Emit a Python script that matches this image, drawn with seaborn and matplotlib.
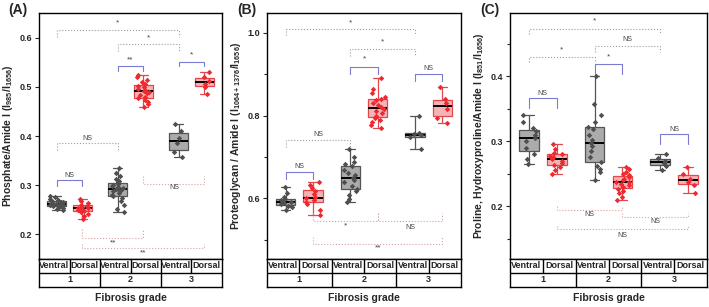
import numpy as np
import pandas as pd
import matplotlib
matplotlib.use("Agg")
import matplotlib.pyplot as plt
from matplotlib.ticker import MultipleLocator
import seaborn as sns

sns.set_style("ticks")
plt.rcParams['font.family'] = ['Liberation Sans', 'DejaVu Sans']
plt.rcParams['font.weight'] = 'bold'
plt.rcParams['mathtext.fontset'] = 'custom'
plt.rcParams['mathtext.rm'] = 'Liberation Sans:bold'
plt.rcParams['mathtext.bf'] = 'Liberation Sans:bold'
plt.rcParams['mathtext.default'] = 'bf'
np.random.seed(4)

grade_order = ['1', '2', '3']
side_order = ['Ventral', 'Dorsal']
group_keys = ['1V', '1D', '2V', '2D', '3V', '3D']

# (A) phosphate / amide I
a_1v = [0.248, 0.251, 0.253, 0.255, 0.256, 0.258, 0.259, 0.260, 0.261, 0.262, 0.262, 0.264, 0.265, 0.266, 0.268, 0.270, 0.272, 0.275, 0.278]
a_1d = [0.230, 0.236, 0.241, 0.245, 0.247, 0.249, 0.251, 0.253, 0.254, 0.256, 0.258, 0.260, 0.263, 0.267, 0.272]
a_2v = [0.245, 0.252, 0.260, 0.268, 0.274, 0.277, 0.280, 0.284, 0.287, 0.289, 0.291, 0.292, 0.293, 0.295, 0.297, 0.300, 0.303, 0.306, 0.309, 0.312, 0.318, 0.325, 0.335]
a_2d = [0.460, 0.465, 0.470, 0.474, 0.477, 0.480, 0.484, 0.487, 0.489, 0.491, 0.493, 0.496, 0.499, 0.503, 0.507, 0.510, 0.515, 0.520, 0.525]
a_3v = [0.357, 0.368, 0.385, 0.395, 0.410, 0.425]
a_3d = [0.485, 0.500, 0.507, 0.512, 0.520, 0.530]

# (B) proteoglycan / amide I
b_1v = [0.572, 0.578, 0.582, 0.585, 0.588, 0.590, 0.592, 0.595, 0.598, 0.603, 0.612, 0.628]
b_1d = [0.560, 0.572, 0.585, 0.592, 0.596, 0.600, 0.603, 0.610, 0.618, 0.625, 0.632, 0.640]
b_2v = [0.590, 0.598, 0.607, 0.618, 0.623, 0.630, 0.640, 0.645, 0.650, 0.655, 0.660, 0.668, 0.678, 0.683, 0.688, 0.700, 0.720]
b_2d = [0.770, 0.778, 0.785, 0.790, 0.795, 0.800, 0.805, 0.810, 0.815, 0.820, 0.825, 0.830, 0.838, 0.840, 0.845, 0.855, 0.865, 0.890]
b_3v = [0.720, 0.748, 0.752, 0.755, 0.758, 0.800]
b_3d = [0.782, 0.795, 0.815, 0.830, 0.840, 0.868]

# (C) proline, hydroxyproline / amide I
c_1v = [0.265, 0.272, 0.280, 0.290, 0.300, 0.305, 0.310, 0.315, 0.320, 0.330, 0.340]
c_1d = [0.250, 0.255, 0.260, 0.263, 0.267, 0.270, 0.273, 0.275, 0.278, 0.280, 0.282, 0.288, 0.295]
c_2v = [0.240, 0.252, 0.258, 0.262, 0.268, 0.275, 0.285, 0.292, 0.297, 0.302, 0.310, 0.318, 0.322, 0.330, 0.340, 0.357, 0.400]
c_2d = [0.210, 0.215, 0.220, 0.224, 0.227, 0.230, 0.232, 0.235, 0.237, 0.238, 0.240, 0.242, 0.245, 0.248, 0.250, 0.253, 0.257, 0.260]
c_3v = [0.255, 0.262, 0.266, 0.270, 0.274, 0.280]
c_3d = [0.220, 0.232, 0.238, 0.242, 0.250, 0.260]

# significance brackets: left, right, line y, leg end y, text y, label, kind
a_brackets = [('1V', '3V', 0.617, 0.603, 0.631, '*', 'gray'),
              ('2V', '3V', 0.588, 0.573, 0.601, '*', 'gray'),
              ('2V', '2D', 0.543, 0.533, 0.556, '**', 'blue'),
              ('3V', '3D', 0.551, 0.542, 0.565, '*', 'blue'),
              ('1V', '2V', 0.386, 0.371, 0.395, 'NS', 'gray'),
              ('1V', '1D', 0.310, 0.298, 0.319, 'NS', 'blue'),
              ('2D', '3D', 0.303, 0.319, 0.294, 'NS', 'pink'),
              ('1D', '2D', 0.192, 0.210, 0.182, '**', 'pink'),
              ('1D', '3D', 0.172, 0.180, 0.162, '**', 'pink')]
b_brackets = [('1V', '3V', 1.010, 0.994, 1.025, '*', 'gray'),
              ('2V', '3V', 0.961, 0.944, 0.978, '*', 'gray'),
              ('2V', '2D', 0.918, 0.900, 0.936, '*', 'blue'),
              ('3V', '3D', 0.900, 0.884, 0.914, 'NS', 'blue'),
              ('1V', '2V', 0.740, 0.725, 0.753, 'NS', 'gray'),
              ('1V', '1D', 0.664, 0.646, 0.677, 'NS', 'blue'),
              ('1D', '2D', 0.546, 0.564, 0.534, '*', 'pink'),
              ('2D', '3D', 0.546, 0.564, 0.530, 'NS', 'pink'),
              ('1D', '3D', 0.490, 0.506, 0.480, '**', 'pink')]
c_brackets = [('1V', '3V', 0.473, 0.464, 0.485, '*', 'gray'),
              ('2V', '3V', 0.447, 0.437, 0.456, 'NS', 'gray'),
              ('1V', '2V', 0.430, 0.422, 0.441, '*', 'gray'),
              ('2V', '2D', 0.418, 0.404, 0.429, '*', 'blue'),
              ('1V', '1D', 0.367, 0.351, 0.374, 'NS', 'blue'),
              ('3V', '3D', 0.311, 0.296, 0.318, 'NS', 'blue'),
              ('1D', '2D', 0.195, 0.200, 0.188, 'NS', 'pink'),
              ('2D', '3D', 0.183, 0.190, 0.176, 'NS', 'pink'),
              ('1D', '3D', 0.165, 0.170, 0.155, 'NS', 'pink')]

fills = {'Ventral': '#ababab', 'Dorsal': '#f6b3b5'}
edges = {'Ventral': '#555555', 'Dorsal': '#e4474c'}
dots = {'Ventral': '#4f4f4f', 'Dorsal': '#ee2a30'}
bracket_style = {'gray': ('#9c9c9c', ':'), 'blue': ('#7b7bd2', '-'), 'pink': ('#d8a2a2', ':')}


def xpos(key):
    return grade_order.index(key[0]) + (-0.2125 if key[1] == 'V' else 0.2125)


def make_frame(vals):
    parts = []
    for key, v in zip(group_keys, vals):
        side = 'Ventral' if key[1] == 'V' else 'Dorsal'
        parts.append(pd.DataFrame({'pos': xpos(key), 'side': side, 'value': v}))
    return pd.concat(parts, ignore_index=True)


def draw_panel(ax, tab, vals, ylim, major, minor, ylabel, brackets):
    df = make_frame(vals)
    for side in side_order:
        sub = df[df['side'] == side]
        sns.boxplot(data=sub, x='pos', y='value', native_scale=True, color=fills[side],
                    linecolor=edges[side], saturation=1, width=0.3, whis=(0, 100),
                    showfliers=False, linewidth=0.9,
                    medianprops=dict(color='black', linewidth=1.4), ax=ax)
        sns.stripplot(data=sub, x='pos', y='value', native_scale=True, color=dots[side],
                      jitter=0.11, marker='D', size=2.8, linewidth=0, ax=ax)
    for left, right, y, leg, ty, label, kind in brackets:
        c, ls = bracket_style[kind]
        x1, x2 = xpos(left), xpos(right)
        ax.plot([x1, x1, x2, x2], [leg, y, y, leg], color=c, ls=ls, lw=0.8)
        ax.text((x1 + x2) / 2, ty, label, ha='center', va='center',
                fontsize=5 if label == 'NS' else 6, color='#444444', fontweight='normal')
    ax.set_xlim(-0.5, 2.5)
    ax.set_ylim(ylim)
    ax.set_xticks([])
    ax.set_xlabel('')
    ax.yaxis.set_major_locator(MultipleLocator(major))
    if minor:
        ax.yaxis.set_minor_locator(MultipleLocator(minor))
    ax.tick_params(axis='y', which='major', labelsize=6.5, length=3, width=0.8, pad=2)
    ax.tick_params(axis='y', which='minor', length=2.5, width=0.8)
    ax.set_ylabel(ylabel, fontsize=7.5, fontweight='bold', labelpad=3)
    for s in ax.spines.values():
        s.set_linewidth(1.0)
        s.set_color('black')

    # category table below the axis
    tab.set_xlim(-0.5, 2.5)
    tab.set_ylim(0, 2)
    tab.set_xticks([])
    tab.set_yticks([])
    tab.axhline(1, color='black', lw=1.0)
    for x in [0, 1, 2]:
        tab.plot([x, x], [1, 2], color='black', lw=1.0)
    for x in [0.5, 1.5]:
        tab.plot([x, x], [0, 2], color='black', lw=1.0)
    for i, g in enumerate(grade_order):
        tab.text(i - 0.25, 1.5, 'Ventral', ha='center', va='center', fontsize=6.5, fontweight='bold')
        tab.text(i + 0.25, 1.5, 'Dorsal', ha='center', va='center', fontsize=6.5, fontweight='bold')
        tab.text(i, 0.5, g, ha='center', va='center', fontsize=6.5, fontweight='bold')
    for s in tab.spines.values():
        s.set_linewidth(1.0)
        s.set_color('black')
    tab.set_xlabel('Fibrosis grade', fontsize=7.5, fontweight='bold', labelpad=4)


fig = plt.figure(figsize=(7.09, 3.07), dpi=100)


def px_axes(l, t, r, b):
    return fig.add_axes([l / 709, 1 - b / 307, (r - l) / 709, (b - t) / 307])


ax_a, tab_a = px_axes(39, 13, 222, 259), px_axes(39, 259, 222, 287)
ax_b, tab_b = px_axes(267, 13, 461, 259), px_axes(267, 259, 461, 287)
ax_c, tab_c = px_axes(510, 13, 707, 259), px_axes(510, 259, 707, 287)

draw_panel(ax_a, tab_a, [a_1v, a_1d, a_2v, a_2d, a_3v, a_3d], (0.149, 0.651), 0.1, None,
           r'Phosphate/Amide I (I$_{985}$/I$_{1656}$)', a_brackets)
draw_panel(ax_b, tab_b, [b_1v, b_1d, b_2v, b_2d, b_3v, b_3d], (0.453, 1.048), 0.2, 0.1,
           r'Proteoglycan / Amide I (I$_{1064+1376}$/I$_{1656}$)', b_brackets)
draw_panel(ax_c, tab_c, [c_1v, c_1d, c_2v, c_2d, c_3v, c_3d], (0.119, 0.497), 0.1, 0.05,
           r'Proline, Hydroxyproline/Amide I (I$_{851}$/I$_{1656}$)', c_brackets)

fig.text(8 / 709, 1 - 10 / 307, '(A)', fontsize=10, fontweight='bold', va='center')
fig.text(237 / 709, 1 - 10 / 307, '(B)', fontsize=10, fontweight='bold', va='center')
fig.text(480 / 709, 1 - 10 / 307, '(C)', fontsize=10, fontweight='bold', va='center')

fig.savefig('out.png', dpi=100)
